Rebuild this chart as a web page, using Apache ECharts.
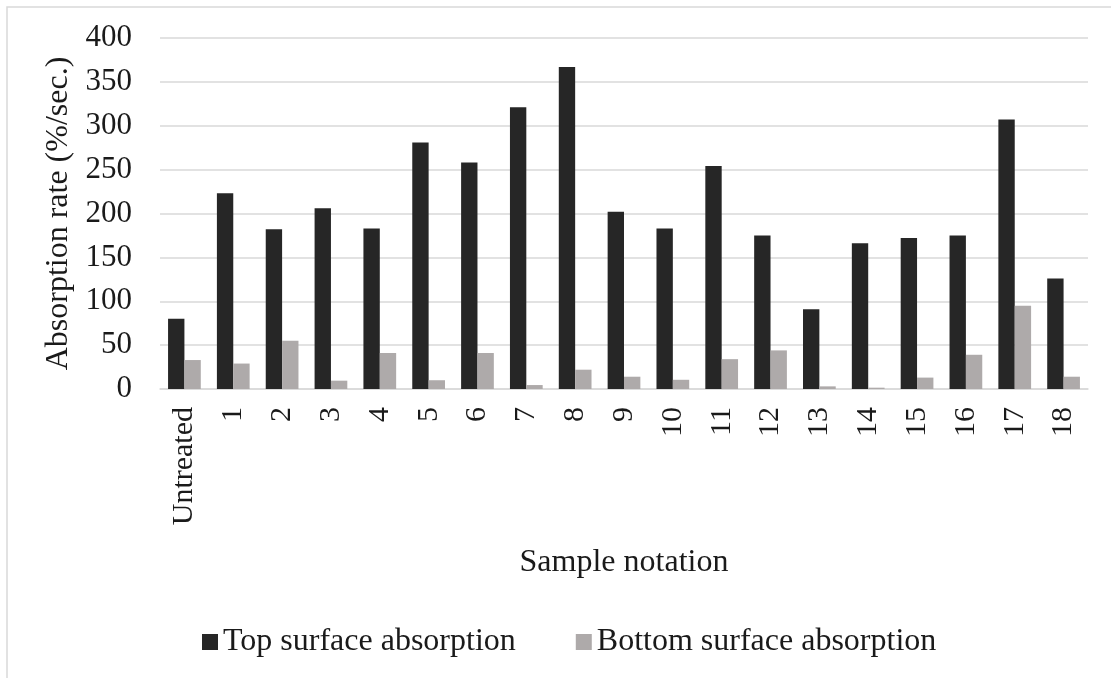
<!DOCTYPE html>
<html>
<head>
<meta charset="utf-8">
<script src="https://cdn.jsdelivr.net/npm/echarts@6/dist/echarts.min.js"></script>
<style>
html,body{margin:0;padding:0;background:#fff;}
#chart{width:1111px;height:678px;}
</style>
</head>
<body>
<div id="chart"></div>
<script>
const categories = ['Untreated','1','2','3','4','5','6','7','8','9','10','11','12','13','14','15','16','17','18'];
const topSurface = [80, 223, 182, 206, 183, 281, 258, 321, 367, 202, 183, 254, 175, 91, 166, 172, 175, 307, 126];
const bottomSurface = [33, 29, 55, 9.5, 41, 10, 41, 4.5, 22, 14, 10.5, 34, 44, 3, 1.5, 13, 39, 95, 14];
const yTicks = {min: 0, max: 400, interval: 50};

const FONT = '"Liberation Serif", "Times New Roman", serif';
const chart = echarts.init(document.getElementById('chart'));
chart.setOption({
  animation: false,
  backgroundColor: '#ffffff',
  textStyle: {fontFamily: FONT},
  graphic: [{
    type: 'rect', silent: true, z: -10,
    shape: {x: 7, y: 7, width: 1120, height: 690},
    style: {fill: 'none', stroke: '#d9d9d9', lineWidth: 1.5}
  }],
  grid: {left: 160, right: 23, top: 38, height: 351, containLabel: false},
  legend: {
    left: 197, top: 621,
    itemWidth: 16, itemHeight: 16, itemGap: 60,
    icon: 'rect',
    textStyle: {fontFamily: FONT, fontSize: 32, color: '#1a1a1a'},
    data: ['Top surface absorption', 'Bottom surface absorption']
  },
  xAxis: {
    type: 'category',
    data: categories,
    name: 'Sample notation',
    nameLocation: 'middle',
    nameGap: 158,
    nameTextStyle: {fontFamily: FONT, fontSize: 32, color: '#1a1a1a'},
    axisLine: {show: true, lineStyle: {color: '#d9d9d9', width: 1.5}},
    axisTick: {show: false},
    axisLabel: {rotate: 90, margin: 18, fontFamily: FONT, fontSize: 30, color: '#1a1a1a', interval: 0}
  },
  yAxis: {
    type: 'value',
    min: yTicks.min, max: yTicks.max, interval: yTicks.interval,
    name: 'Absorption rate (%/sec.)',
    nameLocation: 'middle',
    nameGap: 84,
    nameRotate: 90,
    nameTextStyle: {fontFamily: FONT, fontSize: 32, color: '#1a1a1a'},
    axisLine: {show: false},
    axisTick: {show: false},
    splitLine: {lineStyle: {color: '#d9d9d9', width: 1.5}},
    axisLabel: {margin: 28, fontFamily: FONT, fontSize: 31, color: '#1a1a1a'}
  },
  series: [
    {
      name: 'Top surface absorption', type: 'bar', data: topSurface,
      barGap: '0%', barCategoryGap: '33%',
      itemStyle: {color: '#262626'}
    },
    {
      name: 'Bottom surface absorption', type: 'bar', data: bottomSurface,
      barGap: '0%', barCategoryGap: '33%',
      itemStyle: {color: '#aeaaaa'}
    }
  ]
});
</script>
</body>
</html>
